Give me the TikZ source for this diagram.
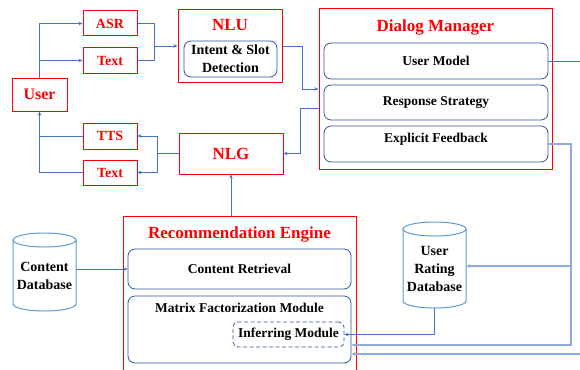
\documentclass[tikz,border=0pt]{standalone}
\usepackage{fontspec}
\setmainfont{Liberation Serif}
\usetikzlibrary{arrows.meta}
\definecolor{connblue}{HTML}{4472C4}
\definecolor{connlight}{HTML}{8FAADC}
\definecolor{inblue}{HTML}{2F5597}
\definecolor{dbblue}{HTML}{5B9BD5}
\tikzset{
  redbox/.style={draw=red, line width=1pt, inner sep=0pt, text=red, font=\bfseries\fontsize{14}{16}\selectfont},
  cont/.style={draw=red, line width=1pt, inner sep=0pt},
  ttl/.style={text=red, font=\bfseries\fontsize{17}{19}\selectfont, inner sep=0pt},
  inbox/.style={draw=inblue, line width=0.8pt, rounded corners=7pt, inner sep=0pt, align=center, font=\bfseries\fontsize{13.5}{18}\selectfont},
  blk/.style={inner sep=0pt, align=center, font=\bfseries\fontsize{13.5}{18}\selectfont},
  dbbox/.style={inner sep=0pt, align=center, font=\bfseries\fontsize{14}{18}\selectfont},
  dbline/.style={draw=dbblue, line width=1pt},
  conn/.style={draw=connblue, line width=0.8pt},
  connl/.style={draw=connlight, line width=1.3pt},
  arr/.style={-{Stealth[length=4pt,width=3.5pt]}}
}
\begin{document}
\begin{tikzpicture}[x=1pt,y=-1pt]
\path[use as bounding box] (0,0) rectangle (580,369);
\clip (0,0) rectangle (580,369);

% left side boxes
\node[redbox, minimum width=55pt, minimum height=33pt, font=\bfseries\fontsize{16}{18}\selectfont] (user) at (39.5,94.5) {User};
\node[redbox, minimum width=54pt, minimum height=25pt] (asr) at (110,23.5) {ASR};
\node[redbox, minimum width=54pt, minimum height=25pt] (txt1) at (110,60.5) {Text};
\node[redbox, minimum width=54pt, minimum height=26pt] (tts) at (110,136) {TTS};
\node[redbox, minimum width=54pt, minimum height=25pt] (txt2) at (110,172.5) {Text};

% NLU
\node[cont, minimum width=104pt, minimum height=72pt] (nlu) at (230,46) {};
\node[ttl] (nlut) at (230,25) {NLU};
\node[inbox, minimum width=93pt, minimum height=36pt, font=\bfseries\fontsize{14}{18}\selectfont] (isd) at (230.5,59) {Intent \& Slot\\Detection};

% NLG
\node[cont, minimum width=104pt, minimum height=41pt] (nlg) at (231,153.5) {};
\node[ttl] (nlgt) at (231,153.5) {NLG};

% Dialog manager
\node[cont, minimum width=233pt, minimum height=160pt] (dm) at (435.5,89) {};
\node[ttl] (dmt) at (435.5,27) {Dialog Manager};
\node[inbox, minimum width=224pt, minimum height=36pt] (um) at (436,61) {User Model};
\node[inbox, minimum width=224pt, minimum height=35pt] (rs) at (436,102.5) {Response Strategy};
\node[inbox, minimum width=224pt, minimum height=36pt] (ef) at (436,144) {};
\node[blk] (eft) at (436,139) {Explicit Feedback};

% Recommendation engine
\node[cont, minimum width=233pt, minimum height=170pt] (re) at (239.5,301) {};
\node[ttl] (ret) at (239.5,234) {Recommendation Engine};
\node[inbox, minimum width=223pt, minimum height=40pt] (cr) at (239.5,269) {Content Retrieval};
\node[inbox, minimum width=223pt, minimum height=67pt] (mf) at (239.5,329.5) {};
\node[blk] (mft) at (239.5,308) {Matrix Factorization Module};
\node[inbox, dashed, dash pattern=on 4pt off 2.5pt, rounded corners=5pt, minimum width=111pt, minimum height=25pt] (inf) at (288.5,334.5) {Inferring Module};

% Content database cylinder
\draw[dbline] (13,240) -- (13,304) arc[start angle=180, end angle=0, x radius=31.5, y radius=7] -- (76,240);
\draw[dbline] (44.5,240) ellipse[x radius=31.5, y radius=7];
\node[dbbox, minimum width=63pt, minimum height=71pt] (cdb) at (44.5,275.5) {Content\\Database};

% User rating database cylinder
\draw[dbline] (403,229) -- (403,301) arc[start angle=180, end angle=0, x radius=31.5, y radius=7] -- (466,229);
\draw[dbline] (434.5,229) ellipse[x radius=31.5, y radius=7];
\node[dbbox, minimum width=63pt, minimum height=79pt] (urdb) at (434.5,268.5) {User\\Rating\\Database};

% helper coordinates
\coordinate (m1) at (154,46);
\coordinate (c1) at (302,89);
\coordinate (c2) at (300,108);
\coordinate (m2) at (157,153.5);
\coordinate (c3) at (571,345);
\coordinate (c5) at (571,266);
\coordinate (edge1) at (581,61);
\coordinate (edge2) at (581,354);

% connectors: user -> inputs
\draw[conn, arr] (user.north) |- (asr.west);
\draw[conn, arr] (user.north |- txt1.west) -- (txt1.west);
\draw[conn] (asr.east) -| (m1);
\draw[conn] (txt1.east) -| (m1);
\draw[conn, arr] (m1) -- (nlu.west |- m1);

% NLU -> DM
\draw[conn, arr] (nlu.east) -| (c1) -- (dm.west |- c1);
% DM -> NLG
\draw[conn, arr] (dm.west |- c2) -- (c2) |- (nlg.east);
% NLG -> outputs
\draw[conn] (nlg.west) -- (m2);
\draw[conn, arr] (m2) |- (tts.east);
\draw[conn, arr] (m2) |- (txt2.east);
\draw[conn] (tts.west) -- (tts.west -| user.south);
\draw[conn, arr] (txt2.west) -| (user.south);

% RE -> NLG
\draw[conn, arr] (re.north -| nlg.south) -- (nlg.south);
% Content DB -> Content Retrieval
\draw[conn, arr] (cdb.east |- cr.west) -- (cr.west);

% User model out
\draw[conn] (um.east) -- (edge1);
% Explicit feedback route
\draw[connl, arr] (ef.east) -| (c3) -- (mf.east |- c3);
\draw[connl, arr] (c5) -- (urdb.east |- c5);
\draw[connl, arr] (edge2) -- (mf.east |- edge2);
% URDB -> inferring
\draw[conn, arr] (urdb.south) |- (inf.east);
\end{tikzpicture}
\end{document}
